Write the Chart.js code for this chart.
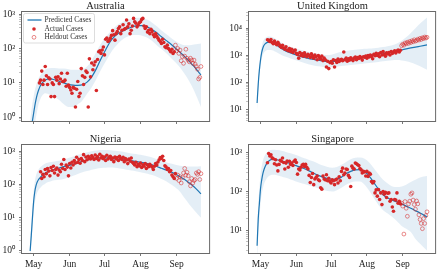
<!DOCTYPE html>
<html>
<head>
<meta charset="utf-8">
<script src="https://cdn.jsdelivr.net/npm/chart.js@4.4.1/dist/chart.umd.min.js"></script>
<style>
  body { margin: 0; background: #fff; width: 440px; height: 272px; overflow: hidden; position: relative; }
  canvas { position: absolute; }
</style>
</head>
<body>
<canvas id="chartAus" width="214" height="132" style="left:0;top:0"></canvas>
<canvas id="chartUk" width="213" height="132" style="left:227px;top:0"></canvas>
<canvas id="chartNga" width="214" height="139" style="left:0;top:133px"></canvas>
<canvas id="chartSgp" width="213" height="139" style="left:227px;top:133px"></canvas>
<script>
// Days are counted from May 1 (day 0)
const monthLabels = ['May', 'Jun', 'Jul', 'Aug', 'Sep'];
const monthTickDays = [0, 31, 61, 92, 123];

// Days where the model curve and its band were read
const modelDays = [-3, -2, -1, 0, 1, 2, 3, 4, 6, 8, 10, 12, 15, 18, 22, 26, 30, 34, 38, 42, 46, 50, 54, 58, 62, 66, 70, 74, 78, 82, 86, 90, 94, 98, 102, 106, 110, 114, 118, 122, 126, 130, 134, 138, 144];

// Australia
const ausPredicted = [0.25, 0.45, 0.8, 1.3, 2.1, 3.2, 4.5, 5.8, 8.5, 10.5, 12, 12.8, 13, 12.3, 11.2, 10, 9, 8.6, 8.5, 8.8, 10.5, 15, 26, 50, 92, 160, 230, 290, 340, 390, 440, 460, 460, 420, 355, 285, 220, 172, 135, 102, 78, 58, 42, 30, 17];
const ausLower = [0.05, 0.1, 0.2, 0.35, 0.6, 1, 1.5, 2.2, 3.5, 4.5, 5, 4.8, 4.3, 3.8, 3.2, 2.4, 2, 2, 2.4, 3.1, 4.8, 7.5, 13, 24, 42, 72, 110, 155, 200, 232, 245, 245, 232, 205, 165, 125, 96, 74, 54, 40, 28, 18, 11, 6, 2];
const ausUpper = [0.8, 1.5, 2.6, 4, 6, 8, 10.5, 13, 17, 21, 24, 26, 27, 27, 26, 26, 25, 24, 24, 25, 30, 45, 80, 140, 215, 305, 420, 530, 620, 700, 760, 780, 760, 680, 560, 440, 335, 262, 205, 165, 138, 125, 125, 130, 140];
const ausActualFirstDay = 5;
const ausActual = [10, 12, 22, 9, 12, 30, 16, 9, 14, 13, 4, 10, 9, 4, 14.5, 12, 15, 9.5, 13, 19,
  11, 11, 12, 8, 19, 8.7, 7.4, 6.2, 5, 7.4, 7, 2, 6.5, 11, 4, 5, 26, 16, 9, 14.5,
  22, 20, 2, 50, 15, 38, 24, 33, 41, 6, 48, 80, 86, 72, 90, 110, 65, 185, 200, 160,
  170, 200, 240, 330, 250, 175, 270, 310, 380, 425, 270, 340, 490, 360, 380, 670, 425, 520, 270, 340,
  450, 750, 600, 540, 425, 480, 560, 600, 700, 750, 450, 380, 425, 300, 340, 270, 360, 310, 250, 220,
  270, 230, 200, 175, 160, 140, 185, 150, 112, 105, 125, 100, 90, 80, 95, 72, 80];
const ausHeldoutFirstDay = 122;
const ausHeldout = [125, 85, 100, 72, 90, 44, 58, 37, 60, 95, 52, 46, 41, 52, 46, 37, 46, 35, 30, 25, 13, 14.5, 30];

// United Kingdom
const ukPredicted = [18, 90, 300, 700, 1300, 1900, 2400, 2700, 3050, 3100, 3000, 2750, 2250, 1800, 1450, 1250, 1080, 950, 850, 770, 720, 670, 630, 600, 590, 650, 700, 740, 770, 800, 850, 920, 1000, 1080, 1150, 1220, 1280, 1350, 1450, 1600, 1750, 1900, 2050, 2200, 2450];
const ukLower = [10, 50, 170, 400, 750, 1050, 1300, 1450, 1600, 1600, 1550, 1450, 1250, 1050, 900, 780, 690, 600, 530, 470, 430, 400, 380, 370, 375, 390, 410, 430, 450, 470, 490, 510, 530, 550, 580, 610, 640, 670, 680, 660, 620, 560, 480, 400, 300];
const ukUpper = [30, 150, 520, 1200, 2200, 3200, 3900, 4400, 4900, 5000, 4800, 4300, 3600, 3000, 2500, 2100, 1850, 1650, 1500, 1350, 1250, 1150, 1080, 1050, 1100, 1250, 1380, 1480, 1560, 1640, 1700, 1760, 1800, 1860, 1950, 2050, 2200, 2400, 2800, 3500, 4700, 6800, 10000, 15000, 25000];
const ukActualFirstDay = 6;
const ukActual = [3800, 3600, 3300, 3900, 3000, 2700, 3400, 2800, 2500, 3100, 2600, 2200, 2000, 2400, 1900,
  1700, 2100, 1600, 1500, 1800, 1400, 1700, 1300, 1500, 1600, 1200, 1100, 800, 1300, 1000, 1150, 950, 1250, 1050, 900,
  1100, 1000, 850, 1150, 950, 800, 1050, 900, 700, 1000, 850, 750, 950, 650, 800, 700, 380, 620, 330, 550,
  600, 520, 700, 380, 650, 560, 750, 600, 680, 720, 640, 1350, 700, 800, 620, 760, 680, 830, 720, 650,
  800, 880, 700, 850, 780, 920, 820, 680, 900, 860, 950, 800, 1000, 880, 1050, 930, 760, 1100, 980, 1200,
  1000, 1150, 900, 1300, 1050, 1400, 1100, 950, 1250, 1150, 1300, 1050, 1400, 1200, 1350, 1500, 1250, 1450, 1600, 1350, 1550];
const ukHeldoutFirstDay = 122;
const ukHeldout = [2300, 2600, 2400, 2900, 2700, 3100, 2800, 3300, 3000, 3500, 3200, 3800, 3400, 3600, 4000, 3700, 4300, 3900, 4500, 4200, 4800, 4400, 4700];

// Nigeria
const ngaPredicted = [1.0, 3, 10, 30, 60, 90, 115, 135, 165, 195, 220, 240, 260, 285, 310, 340, 365, 400, 440, 490, 540, 585, 610, 620, 620, 600, 580, 560, 540, 520, 500, 475, 450, 420, 385, 345, 305, 270, 235, 205, 170, 140, 110, 85, 52];
const ngaLower = [0.5, 1.5, 5, 14, 28, 42, 55, 65, 80, 95, 105, 115, 125, 132, 137, 145, 160, 180, 205, 230, 250, 275, 295, 310, 315, 320, 315, 300, 285, 270, 255, 240, 225, 210, 190, 170, 145, 125, 100, 80, 60, 38, 25, 17, 10];
const ngaUpper = [2, 6, 20, 60, 120, 180, 230, 270, 330, 380, 420, 445, 470, 490, 510, 560, 620, 690, 770, 850, 920, 990, 1040, 1070, 1080, 1060, 1020, 980, 930, 880, 830, 790, 750, 700, 640, 570, 510, 460, 420, 390, 365, 350, 345, 345, 350];
const ngaActualFirstDay = 6;
const ngaActual = [240, 150, 200, 170, 280, 210, 300, 250, 180, 320, 260, 350, 220, 280, 310, 190, 270, 240, 400, 300,
  560, 280, 380, 330, 180, 420, 310, 460, 380, 520, 440, 650, 460, 560, 430, 600, 520, 780, 480, 660,
  550, 700, 620, 580, 720, 640, 560, 760, 600, 680, 540, 800, 620, 700, 590, 660, 520, 750, 580, 640,
  700, 560, 620, 480, 660, 580, 640, 520, 700, 600, 560, 650, 480, 600, 540, 420, 580, 500, 620, 460,
  420, 380, 460, 340, 400, 360, 440, 320, 390, 350, 420, 300, 380, 340, 400, 360, 330, 280, 350, 420,
  380, 470, 550, 640, 600, 700, 520, 360, 330, 280, 300, 240, 260, 190, 170, 150, 210];
const ngaHeldoutFirstDay = 123;
const ngaHeldout = [150, 190, 130, 170, 110, 160, 220, 300, 190, 230, 180, 120, 90, 150, 110, 130, 140, 220, 200, 240, 140, 210];

// Singapore
const sgpPredicted = [4, 20, 50, 120, 200, 290, 370, 440, 560, 640, 670, 670, 650, 620, 570, 520, 470, 430, 385, 340, 295, 260, 235, 215, 205, 210, 235, 285, 330, 360, 365, 330, 250, 170, 115, 82, 68, 60, 54, 48, 42, 37, 32, 28, 22];
const sgpLower = [1.5, 8, 20, 50, 85, 120, 155, 185, 230, 260, 270, 270, 260, 245, 225, 205, 185, 168, 155, 142, 132, 120, 110, 103, 100, 108, 125, 150, 170, 182, 180, 150, 105, 68, 45, 33, 27, 22, 17, 13, 11, 9, 6, 4.5, 3];
const sgpUpper = [8, 45, 120, 280, 450, 620, 760, 880, 1050, 1150, 1200, 1200, 1170, 1120, 1050, 970, 880, 800, 720, 650, 590, 520, 470, 430, 410, 430, 490, 580, 680, 740, 750, 700, 560, 400, 280, 200, 160, 135, 130, 135, 150, 175, 200, 230, 250];
const sgpActualFirstDay = 6;
const sgpActual = [550, 950, 820, 880, 740, 700, 520, 660, 480, 340, 500, 640, 600, 730, 560, 380, 540, 610, 420, 600,
  500, 540, 470, 600, 650, 560, 280, 380, 360, 420, 480, 500, 440, 500, 420, 380, 260, 170, 230, 290,
  150, 210, 230, 250, 200, 190, 125, 115, 250, 210, 200, 270, 190, 220, 180, 165, 200, 190, 150, 200,
  210, 165, 240, 190, 330, 400, 270, 300, 380, 370, 260, 230, 135, 450, 400, 380, 540, 520, 490, 470,
  390, 360, 300, 330, 320, 250, 330, 245, 300, 280, 180, 165, 180, 92, 110, 76, 112, 62, 92, 46,
  100, 85, 95, 70, 90, 92, 56, 62, 40, 31, 62, 60, 92, 50, 56, 48];
const sgpHeldoutFirstDay = 122;
const sgpHeldout = [50, 42, 8, 55, 37, 23, 48, 56, 85, 92, 60, 46, 35, 57, 48, 25, 19, 15, 11, 20, 15, 24, 30];

const lineBlue = '#1f77b4';
const bandBlue = 'rgba(31, 119, 180, 0.12)';
const dotRed = '#d62728';
const heldoutRed = 'rgba(214, 39, 40, 0.6)';
const superscripts = ['⁰', '¹', '²', '³', '⁴', '⁵'];

Chart.defaults.font.family = '"Liberation Serif", "Times New Roman", serif';
Chart.defaults.color = '#222';

function modelPoints(values) {
    return values.map((v, i) => ({ x: modelDays[i], y: v }));
}

function dailyPoints(firstDay, values) {
    return values.map((v, i) => ({ x: firstDay + i, y: v }));
}

// Minor and major ticks of a log axis, 1..9 x 10^n
function logTicks(min, max) {
    const ticks = [];
    for (let e = Math.floor(Math.log10(min)); e <= Math.ceil(Math.log10(max)); e++) {
        for (let m = 1; m < 10; m++) {
            const v = m * Math.pow(10, e);
            if (v >= min && v <= max) ticks.push({ value: v, major: m === 1 });
        }
    }
    return ticks;
}

function powerLabel(v) {
    const e = Math.round(Math.log10(v));
    return Math.abs(Math.log10(v) - e) < 1e-6 ? '10' + superscripts[e] : '';
}

// Grey box round the plot area, like the matplotlib spines
const frame = {
    id: 'frame',
    afterDraw(chart) {
        const { ctx, chartArea: a } = chart;
        ctx.save();
        ctx.strokeStyle = '#6a6a6a';
        ctx.lineWidth = 1;
        ctx.strokeRect(a.left - 0.5, a.top - 0.5, a.right - a.left + 1, a.bottom - a.top + 1);
        ctx.restore();
    }
};

// Legend drawn inside the Australia panel
const legendBox = {
    id: 'legendBox',
    afterDraw(chart) {
        const { ctx, chartArea: a } = chart;
        const x0 = a.left + 1.5, y0 = a.top + 1.5;
        ctx.save();
        ctx.beginPath();
        ctx.roundRect(x0, y0, 71, 29.5, 2);
        ctx.fillStyle = 'rgba(255,255,255,0.85)';
        ctx.fill();
        ctx.strokeStyle = '#d4d4d4';
        ctx.lineWidth = 0.8;
        ctx.stroke();

        ctx.strokeStyle = lineBlue;
        ctx.lineWidth = 1.3;
        ctx.beginPath();
        ctx.moveTo(x0 + 4, y0 + 6.5);
        ctx.lineTo(x0 + 18, y0 + 6.5);
        ctx.stroke();

        ctx.fillStyle = dotRed;
        ctx.beginPath();
        ctx.arc(x0 + 10.5, y0 + 15.5, 1.8, 0, Math.PI * 2);
        ctx.fill();

        ctx.strokeStyle = heldoutRed;
        ctx.lineWidth = 0.9;
        ctx.beginPath();
        ctx.arc(x0 + 10.5, y0 + 23.8, 1.9, 0, Math.PI * 2);
        ctx.stroke();

        ctx.fillStyle = '#333';
        ctx.font = '7.4px "Liberation Serif", serif';
        ctx.textBaseline = 'middle';
        ctx.fillText('Predicted Cases', x0 + 21, y0 + 6.5);
        ctx.fillText('Actual Cases', x0 + 21, y0 + 15.5);
        ctx.fillText('Heldout Cases', x0 + 21, y0 + 23.8);
        ctx.restore();
    }
};

function makePanel(canvasId, cfg) {
    const ctx = document.getElementById(canvasId).getContext('2d');
    const plugins = [frame];
    if (cfg.legend) plugins.push(legendBox);

    return new Chart(ctx, {
        type: 'line',
        data: {
            datasets: [
                {
                    type: 'scatter',
                    data: dailyPoints(cfg.actualFirstDay, cfg.actual),
                    backgroundColor: dotRed,
                    borderColor: dotRed,
                    borderWidth: 0,
                    pointRadius: 1.8
                },
                {
                    type: 'scatter',
                    data: dailyPoints(cfg.heldoutFirstDay, cfg.heldout),
                    backgroundColor: 'rgba(0,0,0,0)',
                    borderColor: heldoutRed,
                    borderWidth: 0.9,
                    pointRadius: 1.9
                },
                {
                    data: modelPoints(cfg.predicted),
                    borderColor: lineBlue,
                    borderWidth: 1.2,
                    pointRadius: 0,
                    cubicInterpolationMode: 'monotone',
                    fill: false
                },
                {
                    data: modelPoints(cfg.upper),
                    borderColor: 'rgba(0,0,0,0)',
                    borderWidth: 0,
                    pointRadius: 0,
                    cubicInterpolationMode: 'monotone',
                    backgroundColor: bandBlue,
                    fill: '+1'
                },
                {
                    data: modelPoints(cfg.lower),
                    borderColor: 'rgba(0,0,0,0)',
                    borderWidth: 0,
                    pointRadius: 0,
                    cubicInterpolationMode: 'monotone',
                    fill: false
                }
            ]
        },
        options: {
            responsive: false,
            animation: false,
            devicePixelRatio: 1,
            layout: { padding: { left: 0, right: cfg.padRight, top: 0, bottom: 0 } },
            plugins: {
                legend: { display: false },
                tooltip: { enabled: false },
                title: {
                    display: true,
                    text: cfg.title,
                    color: '#222',
                    font: { size: 10.5, weight: 'normal', lineHeight: '12px' },
                    padding: { top: 0, bottom: 0 }
                }
            },
            scales: {
                x: {
                    type: 'linear',
                    min: -10,
                    max: 151,
                    afterBuildTicks: s => { s.ticks = monthTickDays.map(v => ({ value: v })); },
                    afterFit: s => { s.height = cfg.months ? 19 : 11; },
                    border: { display: false },
                    grid: { drawOnChartArea: false, drawTicks: true, tickLength: 3, tickColor: '#555', tickWidth: 0.8 },
                    ticks: {
                        display: cfg.months,
                        autoSkip: false,
                        maxRotation: 0,
                        padding: 3,
                        font: { size: 9.5 },
                        callback: v => monthLabels[monthTickDays.indexOf(v)]
                    }
                },
                y: {
                    type: 'logarithmic',
                    min: cfg.yMin,
                    max: cfg.yMax,
                    afterBuildTicks: s => { s.ticks = logTicks(s.min, s.max); },
                    afterFit: s => { s.width = 22; },
                    border: { display: false },
                    grid: {
                        drawOnChartArea: false,
                        tickLength: 3,
                        tickColor: c => (c.tick && c.tick.major) ? '#555' : '#999',
                        tickWidth: c => (c.tick && c.tick.major) ? 0.8 : 0.6
                    },
                    ticks: {
                        autoSkip: false,
                        padding: 4,
                        font: { size: 9.5 },
                        callback: v => powerLabel(v)
                    }
                }
            }
        },
        plugins: plugins
    });
}

makePanel('chartAus', {
    title: 'Australia', predicted: ausPredicted, lower: ausLower, upper: ausUpper,
    actual: ausActual, actualFirstDay: ausActualFirstDay, heldout: ausHeldout, heldoutFirstDay: ausHeldoutFirstDay,
    yMin: 0.78, yMax: 1150, months: false, legend: true, padRight: 3
});
makePanel('chartUk', {
    title: 'United Kingdom', predicted: ukPredicted, lower: ukLower, upper: ukUpper,
    actual: ukActual, actualFirstDay: ukActualFirstDay, heldout: ukHeldout, heldoutFirstDay: ukHeldoutFirstDay,
    yMin: 3.9, yMax: 40000, months: false, legend: false, padRight: 2
});
makePanel('chartNga', {
    title: 'Nigeria', predicted: ngaPredicted, lower: ngaLower, upper: ngaUpper,
    actual: ngaActual, actualFirstDay: ngaActualFirstDay, heldout: ngaHeldout, heldoutFirstDay: ngaHeldoutFirstDay,
    yMin: 0.87, yMax: 1520, months: true, legend: false, padRight: 3
});
makePanel('chartSgp', {
    title: 'Singapore', predicted: sgpPredicted, lower: sgpLower, upper: sgpUpper,
    actual: sgpActual, actualFirstDay: sgpActualFirstDay, heldout: sgpHeldout, heldoutFirstDay: sgpHeldoutFirstDay,
    yMin: 2.6, yMax: 1580, months: true, legend: false, padRight: 2
});
</script>
</body>
</html>
